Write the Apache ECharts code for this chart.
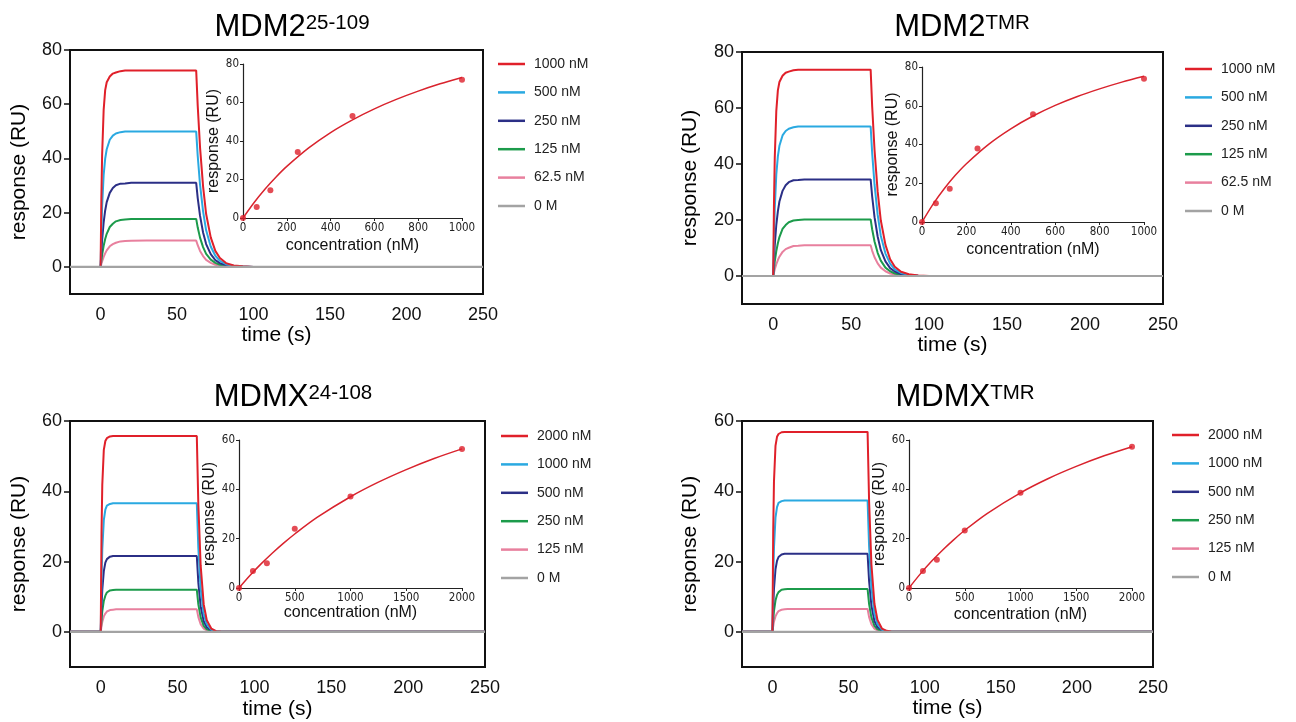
<!DOCTYPE html>
<html><head><meta charset="utf-8">
<script src="https://cdn.jsdelivr.net/npm/echarts@6/dist/echarts.min.js"></script>
<style>html,body{margin:0;padding:0;background:#fff}#c{width:1296px;height:722px}</style>
</head><body><div id="c"></div>
<script>
// ---- shared time points (s) for the sensorgrams ----
const timePoints = [-20,0,0.5,1,2,3,4,6,8,10,13,16,20,30,62.5,63.5,65,67,69,72,75,78,82,87,93,100,250];
const zeroTime = [-20, 250];
const zeroResp = [0, 0];

// ---- Panel A: MDM2 25-109 ----
const labelsA = ['1000 nM','500 nM','250 nM','125 nM','62.5 nM','0 M'];
const a1000 = [0,0,25.3,41.3,57.9,65.2,68.1,70.2,71.3,71.7,72.2,72.4,72.4,72.4,72.4,59.4,44.2,29.7,19.5,10.9,5.9,3.3,1.4,0.5,0.2,0,0];
const a500  = [0,0,12.5,22.5,33.9,39.9,43.4,46.9,48.4,49.2,49.7,49.9,49.9,49.9,49.9,40.9,30.4,20.5,13.5,7.5,4.1,2.2,1.0,0.4,0.1,0,0];
const a250  = [0,0,5.3,9.9,16.4,20.8,23.9,27.3,29.1,30.1,30.7,30.8,31.0,31.0,31.0,25.4,18.9,12.7,8.4,4.7,2.5,1.4,0.6,0.2,0.1,0,0];
const a125  = [0,0,2.3,4.4,7.8,10.3,12.2,14.7,15.9,16.8,17.3,17.5,17.7,17.7,17.7,14.5,10.8,7.3,4.8,2.7,1.5,0.8,0.4,0.1,0,0,0];
const a62   = [0,0,1.1,2.0,3.7,5.0,6.1,7.6,8.4,8.9,9.4,9.55,9.65,9.7,9.7,8.0,5.9,4.0,2.6,1.5,0.8,0.4,0.2,0.1,0,0,0];
const concA = [0,62.5,125,250,500,1000];
const ptsA  = [0,5.7,14.4,34.3,53.0,71.8];
const fitConcA = [0,50,100,150,200,300,400,500,600,700,800,900,1000];
const fitA  = [0,7.95,14.97,21.2,26.8,36.4,44.4,51.0,56.7,61.6,65.9,69.7,73.0];

// ---- Panel B: MDM2 TMR ----
const labelsB = ['1000 nM','500 nM','250 nM','125 nM','62.5 nM','0 M'];
const b1000 = [0,0,25.8,42.0,59.0,66.3,69.3,71.5,72.6,73.0,73.5,73.7,73.7,73.7,73.7,60.4,45.0,30.2,19.9,11.1,6.0,3.3,1.5,0.6,0.2,0,0];
const b500  = [0,0,13.4,24.0,36.3,42.7,46.5,50.2,51.8,52.6,53.1,53.4,53.4,53.4,53.4,43.8,32.6,21.9,14.4,8.0,4.4,2.4,1.1,0.4,0.1,0,0];
const b250  = [0,0,5.9,11.0,18.3,23.1,26.6,30.4,32.4,33.5,34.2,34.3,34.5,34.5,34.5,28.3,21.0,14.1,9.3,5.2,2.8,1.6,0.7,0.3,0.1,0,0];
const b125  = [0,0,2.6,5.1,8.9,11.7,13.9,16.8,18.2,19.2,19.8,20.0,20.2,20.2,20.2,16.6,12.3,8.3,5.5,3.0,1.7,0.9,0.4,0.2,0,0,0];
const b62   = [0,0,1.2,2.3,4.2,5.7,6.9,8.6,9.6,10.1,10.7,10.8,10.95,11.0,11.0,9.0,6.7,4.5,3.0,1.7,0.9,0.5,0.2,0.1,0,0,0];
const concB = [0,62.5,125,250,500,1000];
const ptsB  = [0,9.7,17.1,37.9,55.6,74.0];
const fitConcB = [0,50,100,150,200,300,400,500,600,700,800,900,1000];
const fitB  = [0,9.25,17.2,24.1,30.1,40.1,48.1,54.7,60.2,64.8,68.7,72.2,75.2];

// ---- Panel C: MDMX 24-108 ----
const labelsC = ['2000 nM','1000 nM','500 nM','250 nM','125 nM','0 M'];
const c2000 = [0,0,27.9,41.8,51.8,54.3,55.1,55.6,55.7,55.7,55.7,55.7,55.7,55.7,55.7,36.2,18.9,7.8,3.3,0.9,0.2,0.1,0,0,0,0,0];
const c1000 = [0,0,14.6,23.4,31.8,34.8,35.9,36.4,36.6,36.6,36.6,36.6,36.6,36.6,36.6,23.8,12.4,5.1,2.2,0.6,0.2,0,0,0,0,0,0];
const c500  = [0,0,7.1,11.9,17.3,19.7,20.7,21.4,21.6,21.6,21.6,21.6,21.6,21.6,21.6,14.0,7.3,3.0,1.3,0.3,0.1,0,0,0,0,0,0];
const c250  = [0,0,3.4,5.8,8.8,10.3,11.2,11.8,11.9,12.0,12.0,12.0,12.0,12.0,12.0,7.8,4.1,1.7,0.7,0.2,0,0,0,0,0,0,0];
const c125  = [0,0,1.6,2.8,4.4,5.2,5.8,6.2,6.3,6.4,6.4,6.4,6.4,6.4,6.4,4.2,2.2,0.9,0.4,0.1,0,0,0,0,0,0,0];
const concC = [0,125,250,500,1000,2000];
const ptsC  = [0,6.9,10.0,24.0,37.1,56.4];
const fitConcC = [0,100,200,300,400,500,700,1000,1250,1500,1750,2000];
const fitC  = [0,5.15,9.87,14.2,18.2,21.9,28.6,37.0,42.9,48.0,52.5,56.4];

// ---- Panel D: MDMX TMR ----
const labelsD = ['2000 nM','1000 nM','500 nM','250 nM','125 nM','0 M'];
const d2000 = [0,0,28.5,42.7,52.9,55.5,56.3,56.8,56.9,56.9,56.9,56.9,56.9,56.9,56.9,37.0,19.3,8.0,3.4,0.9,0.3,0.1,0,0,0,0,0];
const d1000 = [0,0,15.0,23.9,32.5,35.5,36.7,37.2,37.4,37.4,37.4,37.4,37.4,37.4,37.4,24.3,12.7,5.2,2.2,0.6,0.2,0,0,0,0,0,0];
const d500  = [0,0,7.3,12.2,17.8,20.2,21.3,22.0,22.2,22.2,22.2,22.2,22.2,22.2,22.2,14.4,7.5,3.1,1.3,0.4,0.1,0,0,0,0,0,0];
const d250  = [0,0,3.4,5.9,8.9,10.5,11.3,12.0,12.1,12.2,12.2,12.2,12.2,12.2,12.2,7.9,4.1,1.7,0.7,0.2,0,0,0,0,0,0,0];
const d125  = [0,0,1.6,2.9,4.4,5.3,5.9,6.3,6.4,6.5,6.5,6.5,6.5,6.5,6.5,4.2,2.2,0.9,0.4,0.1,0,0,0,0,0,0,0];
const concD = [0,125,250,500,1000,2000];
const ptsD  = [0,6.9,11.5,23.3,38.6,57.3];
const fitConcD = [0,100,200,300,400,500,700,1000,1250,1500,1750,2000];
const fitD  = [0,5.62,10.7,15.3,19.5,23.4,30.2,38.6,44.4,49.3,53.6,57.3];

// tick label lists
const timeTicks = [0,50,100,150,200,250];
const respTicks80 = [0,20,40,60,80];
const respTicks60 = [0,20,40,60];

const COLORS = ['#e0202a','#2aa9e1','#2b2f86','#1c9b4b','#e8809e','#a3a3a3'];
const FONT = 'Liberation Sans, Arial, sans-serif';
const NARROW = '"Liberation Sans Narrow", "Arial Narrow", "DejaVu Sans Condensed", sans-serif';

const panels = [
  { key:'A', title:['MDM2','25-109'], titleX:292, titleY:10, labels:labelsA, curves:[a1000,a500,a250,a125,a62],
    yMax:80, yTicks:respTicks80, grid:{left:70,top:50,width:413,height:244},
    yNameGap:40, xNameGap:20,
    inset:{left:243,top:64,width:219,height:154}, insetXMax:1000, insetXInt:200, insetYMax:80,
    conc:concA, pts:ptsA, fitConc:fitConcA, fit:fitA, insetYNameGap:18, insetXNameGap:20,
    legend:{left:498, top:57} },
  { key:'B', title:['MDM2','TMR'], titleX:962, titleY:10, labels:labelsB, curves:[b1000,b500,b250,b125,b62],
    yMax:80, yTicks:respTicks80, grid:{left:742,top:52,width:421,height:252},
    yNameGap:41, xNameGap:22,
    inset:{left:922,top:67,width:222,height:155}, insetXMax:1000, insetXInt:200, insetYMax:80,
    conc:concB, pts:ptsB, fitConc:fitConcB, fit:fitB, insetYNameGap:21, insetXNameGap:20,
    legend:{left:1185, top:62} },
  { key:'C', title:['MDMX','24-108'], titleX:293, titleY:380, labels:labelsC, curves:[c2000,c1000,c500,c250,c125],
    yMax:60, yTicks:respTicks60, grid:{left:70,top:421,width:415,height:246},
    yNameGap:40, xNameGap:32,
    inset:{left:239,top:440,width:223,height:148}, insetXMax:2000, insetXInt:500, insetYMax:60,
    conc:concC, pts:ptsC, fitConc:fitConcC, fit:fitC, insetYNameGap:14, insetXNameGap:17,
    legend:{left:501, top:429} },
  { key:'D', title:['MDMX','TMR'], titleX:965, titleY:380, labels:labelsD, curves:[d2000,d1000,d500,d250,d125],
    yMax:60, yTicks:respTicks60, grid:{left:742,top:421,width:411,height:246},
    yNameGap:41, xNameGap:26,
    inset:{left:909,top:440,width:223,height:148}, insetXMax:2000, insetXInt:500, insetYMax:60,
    conc:concD, pts:ptsD, fitConc:fitConcD, fit:fitD, insetYNameGap:18, insetXNameGap:19,
    legend:{left:1172, top:428} }
];

const option = { animation:false, backgroundColor:'#fff', title:[], grid:[], xAxis:[], yAxis:[], legend:[], series:[] };

panels.forEach((p, i) => {
  option.title.push({
    text: '{a|' + p.title[0] + '}{b|' + p.title[1] + '}',
    left: p.titleX, top: p.titleY, textAlign: 'center', padding:0,
    textStyle: { fontWeight:'normal', rich: {
      a: { fontSize: 31, fontFamily: FONT, fontWeight:'normal', color: '#000', lineHeight: 35 },
      b: { fontSize: 20.5, fontFamily: FONT, fontWeight:'normal', color: '#000', lineHeight: 22, verticalAlign: 'top', padding:[3,0,0,0] }
    } }
  });
  option.grid[i] = Object.assign({ show:true, borderColor:'#111', borderWidth:2, backgroundColor:'transparent' }, p.grid);
  option.grid[i+4] = Object.assign({ show:false }, p.inset);

  option.xAxis[i] = {
    gridIndex:i, type:'value', min:-20, max:250, position:'bottom',
    name:'time (s)', nameLocation:'middle', nameGap:p.xNameGap,
    nameTextStyle:{ fontSize:21, fontFamily:FONT, color:'#000' },
    axisLine:{ show:false, onZero:false }, splitLine:{ show:false },
    axisTick:{ show:false },
    axisLabel:{ customValues: timeTicks, fontSize:18, fontFamily:FONT, color:'#111', margin:12 }
  };
  option.yAxis[i] = {
    gridIndex:i, type:'value', min:-10, max:p.yMax, position:'left',
    name:'response (RU)', nameLocation:'middle', nameGap:p.yNameGap, nameRotate:90,
    nameTextStyle:{ fontSize:21, fontFamily:FONT, color:'#000' },
    axisLine:{ show:true, onZero:false, lineStyle:{ color:'#111', width:2 } }, splitLine:{ show:false },
    axisTick:{ show:true, inside:false, customValues: p.yTicks, length:6, lineStyle:{ color:'#111', width:1.5 } },
    axisLabel:{ customValues: p.yTicks, fontSize:18, fontFamily:FONT, color:'#111', margin:8 }
  };
  option.xAxis[i+4] = {
    gridIndex:i+4, type:'value', min:0, max:p.insetXMax, interval:p.insetXInt,
    name:'concentration (nM)', nameLocation:'middle', nameGap:p.insetXNameGap,
    nameTextStyle:{ fontSize:16, fontFamily:FONT, color:'#111' },
    axisLine:{ show:true, onZero:false, lineStyle:{ color:'#222', width:1.2 } },
    axisTick:{ show:true, length:3, lineStyle:{ color:'#222' } },
    splitLine:{ show:false },
    axisLabel:{ fontSize:11.5, fontFamily:NARROW, color:'#222', margin:4, formatter: v => String(v) }
  };
  option.yAxis[i+4] = {
    gridIndex:i+4, type:'value', min:0, max:p.insetYMax, interval:20,
    name:'response (RU)', nameLocation:'middle', nameGap:p.insetYNameGap, nameRotate:90,
    nameTextStyle:{ fontSize:16, fontFamily:FONT, color:'#111' },
    axisLine:{ show:true, onZero:false, lineStyle:{ color:'#222', width:1.2 } },
    axisTick:{ show:true, length:3, lineStyle:{ color:'#222' } },
    splitLine:{ show:false },
    axisLabel:{ fontSize:11.5, fontFamily:NARROW, color:'#222', margin:4, formatter: v => String(v) }
  };

  const names = p.labels.map(l => p.key + '|' + l);
  option.legend.push({
    orient:'vertical', left:p.legend.left, top:p.legend.top, padding:0,
    icon:'rect', itemWidth:27, itemHeight:2.5, itemGap:14.4, selectedMode:false,
    data: names,
    formatter: n => n.split('|')[1],
    textStyle:{ fontSize:14, fontFamily:FONT, color:'#222', lineHeight:14, padding:[0,0,0,4] }
  });

  for (let k = p.curves.length - 1; k >= 0; k--) {
    const arr = p.curves[k];
    option.series.push({
      name: names[k], type:'line', xAxisIndex:i, yAxisIndex:i,
      data: timePoints.map((t, j) => [t, arr[j]]),
      symbol:'none', showSymbol:false, smooth:false, clip:true,
      lineStyle:{ color:COLORS[k], width:2 }, itemStyle:{ color:COLORS[k] }
    });
  }
  option.series.push({
    name: names[5], type:'line', xAxisIndex:i, yAxisIndex:i,
    data: zeroTime.map((t, j) => [t, zeroResp[j]]),
    symbol:'none', showSymbol:false, clip:true,
    lineStyle:{ color:COLORS[5], width:2.2 }, itemStyle:{ color:COLORS[5] }
  });

  option.series.push({
    type:'line', xAxisIndex:i+4, yAxisIndex:i+4,
    data: p.fitConc.map((c, j) => [c, p.fit[j]]),
    symbol:'none', smooth:0.3,
    lineStyle:{ color:'#d9232d', width:1.5 }
  });
  option.series.push({
    type:'scatter', xAxisIndex:i+4, yAxisIndex:i+4,
    data: p.conc.map((c, j) => [c, p.pts[j]]),
    symbol:'circle', symbolSize:6, itemStyle:{ color:'#dd1f2b' }, z:5
  });
});

const chart = echarts.init(document.getElementById('c'), null, { renderer:'canvas' });
chart.setOption(option);
</script>
</body></html>
